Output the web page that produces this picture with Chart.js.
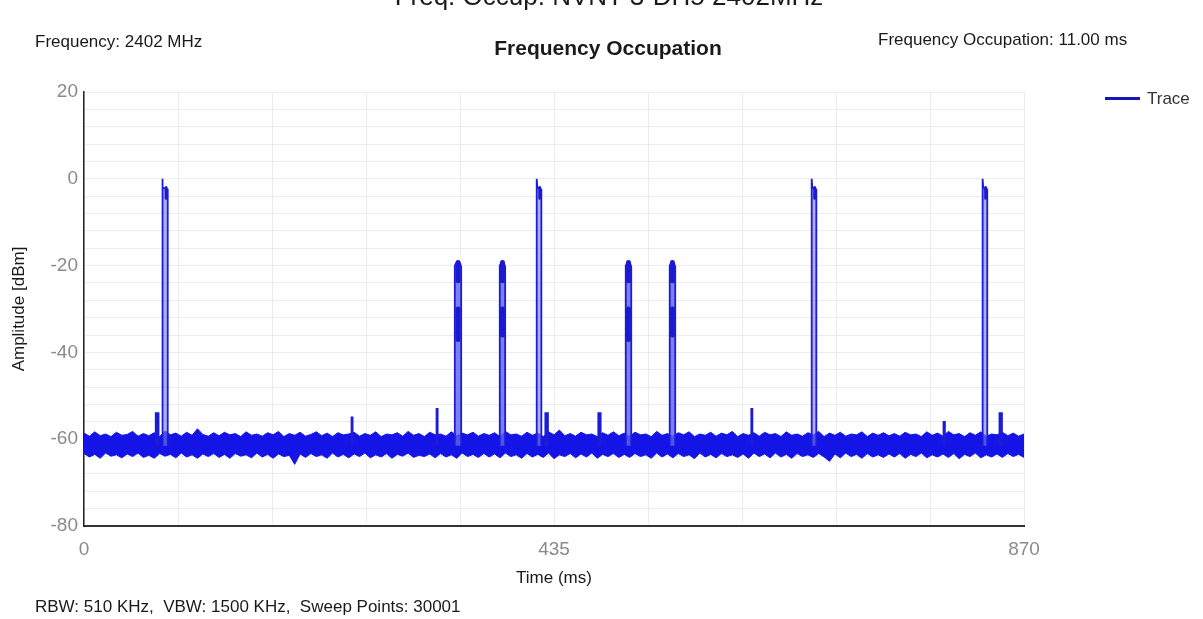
<!DOCTYPE html>
<html>
<head>
<meta charset="utf-8">
<script src="https://cdn.jsdelivr.net/npm/chart.js@4"></script>
<style>
  body { margin: 0; background: #fff; }
  #wrap { position: relative; width: 1203px; height: 619px; overflow: hidden; font-family: "Liberation Sans", Arial, sans-serif; }
  #wrap canvas { position: absolute; left: 0; top: 0; }
  .txt { position: absolute; white-space: nowrap; line-height: 1; color: #1a1a1a; }
  #legend-line { position: absolute; left: 1105px; top: 97px; width: 35px; height: 3px; background: #1717b4; }
</style>
</head>
<body>
<div id="wrap">
  <canvas id="chart" width="1203" height="619"></canvas>
  <div class="txt" style="left:0;width:1218px;text-align:center;top:-17px;font-size:26px;">Freq. Occup. NVNT 3-DH5 2402MHz</div>
  <div class="txt" style="left:35px;top:33px;font-size:17px;">Frequency: 2402 MHz</div>
  <div class="txt" style="left:0;width:1216px;text-align:center;top:37px;font-size:21px;font-weight:bold;">Frequency Occupation</div>
  <div class="txt" style="left:878px;top:31px;font-size:17px;">Frequency Occupation: 11.00 ms</div>
  <div id="legend-line"></div>
  <div class="txt" style="left:1147px;top:90px;font-size:17px;color:#333;">Trace</div>
  <div class="txt" style="left:35px;top:598px;font-size:17px;">RBW: 510 KHz,&nbsp; VBW: 1500 KHz,&nbsp; Sweep Points: 30001</div>
</div>
<script>
// Frequency occupation trace (Chart.js).

const X_MIN = 0, X_MAX = 870;
const Y_MIN = -80, Y_MAX = 20;
const X_LABELS = [0, 435, 870];
const Y_LABELS = [20, 0, -20, -40, -60, -80];

// noise floor envelope, one value every 5 ms (0 .. 870 ms)
const NOISE_STEP = 5;
const noiseHi = [
  -58.6,-59.3,-58.3,-59.2,-58.8,-59.4,-58.4,-59.1,-58.9,-58.2,-59.3,-58.7,-59.2,-58.5,-59.4,-58.1,-59.0,-58.6,-59.3,-58.4,-59.1,-57.6,-58.9,-59.3,-58.5,
  -59.2,-58.4,-59.0,-58.7,-59.4,-58.3,-59.1,-58.8,-59.3,-58.5,-59.0,-58.2,-59.4,-58.7,-59.1,-58.4,-59.3,-58.9,-58.3,-59.2,-58.6,-59.4,-58.5,-59.0,-58.8,
  -58.4,-59.3,-58.7,-59.1,-58.3,-59.4,-58.8,-59.0,-58.5,-59.3,-58.2,-59.1,-58.7,-59.4,-58.4,-59.0,-58.8,-59.3,-58.3,-59.2,-58.6,-59.0,-58.4,-59.3,-58.7,
  -59.1,-58.5,-59.4,-58.2,-59.0,-58.8,-59.3,-58.4,-59.1,-58.6,-59.4,-58.3,-59.0,-57.9,-59.2,-58.7,-59.3,-58.4,-59.0,-58.8,-59.4,-58.5,-59.1,-58.3,-59.2,
  -58.6,-59.3,-58.4,-59.0,-58.8,-59.4,-58.2,-59.1,-58.7,-59.3,-58.5,-59.0,-58.3,-59.4,-58.8,-59.1,-58.4,-59.3,-58.6,-59.0,-58.2,-59.4,-58.7,-59.1,-58.5,
  -59.3,-58.4,-59.0,-58.7,-59.4,-58.3,-59.1,-58.8,-59.3,-58.5,-59.0,-58.2,-59.4,-58.6,-59.1,-58.4,-59.3,-58.8,-59.0,-58.3,-59.4,-58.6,-59.1,-58.5,-59.2,
  -58.7,-59.3,-58.4,-59.0,-58.8,-59.4,-58.3,-59.1,-58.6,-59.3,-58.2,-59.0,-58.7,-59.4,-58.5,-59.1,-58.3,-59.3,-58.8,-59.0,-58.4,-59.2,-58.6,-59.3,-58.8
];
const noiseLo = [
  -63.3,-64.1,-63.5,-64.4,-63.2,-63.9,-63.6,-64.3,-63.4,-64.0,-63.2,-64.2,-63.7,-64.4,-63.3,-63.9,-63.5,-64.3,-63.2,-64.1,-63.6,-64.4,-63.4,-64.0,-63.3,
  -64.2,-63.5,-64.4,-63.3,-63.9,-63.6,-64.3,-63.2,-64.1,-63.5,-64.4,-63.4,-64.0,-63.7,-65.8,-63.4,-64.2,-63.3,-64.0,-63.6,-64.4,-63.2,-64.1,-63.5,-64.3,
  -63.4,-64.0,-63.2,-64.3,-63.6,-64.1,-63.3,-64.4,-63.5,-63.9,-63.2,-64.2,-63.7,-64.0,-63.4,-64.3,-63.3,-64.1,-63.6,-64.4,-63.2,-64.0,-63.5,-64.2,-63.3,
  -64.1,-63.4,-64.3,-63.2,-64.0,-63.6,-64.4,-63.3,-64.1,-63.5,-64.2,-63.2,-64.5,-63.6,-64.0,-63.3,-64.3,-63.4,-64.1,-63.2,-64.4,-63.5,-64.0,-63.3,-64.2,
  -63.5,-64.2,-63.3,-64.0,-63.6,-64.4,-63.2,-64.1,-63.4,-64.3,-63.3,-64.0,-63.6,-64.5,-63.2,-64.1,-63.5,-64.3,-63.3,-64.0,-63.6,-64.2,-63.4,-64.4,-63.2,
  -64.0,-63.4,-64.3,-63.2,-64.1,-63.5,-64.4,-63.3,-64.0,-63.6,-64.2,-63.3,-64.1,-65.1,-63.4,-64.3,-63.2,-64.0,-63.5,-64.4,-63.3,-64.1,-63.6,-64.2,-63.4,
  -64.1,-63.3,-64.4,-63.5,-64.0,-63.2,-64.3,-63.6,-64.1,-63.4,-64.2,-63.3,-64.5,-63.5,-64.0,-63.2,-64.3,-63.6,-64.1,-63.4,-64.2,-63.3,-64.0,-63.5,-64.2
];

// bursts: start / end time (ms) and top level (dBm)
const pulseStart = [66.4, 72.4, 247.6, 326.3, 343.2, 384.8, 419.0, 427.0, 476.0, 501.4, 542.1, 617.6, 673.5, 795.5, 831.7, 847.3];
const pulseEnd   = [69.0, 77.5, 248.6, 327.3, 349.1, 389.8, 423.3, 429.4, 478.2, 506.5, 547.2, 618.6, 677.8, 796.8, 836.0, 849.6];
const pulseTop   = [-54, 0, -55, -53, -19.5, -19.5, 0, -54, -54, -19.5, -19.5, -53, 0, -56, 0, -54];
const PULSE_BASE = -61.5;

// dense (dark) stretches inside the bursts
const blobT  = [76.0, 346.2, 346.2, 387.3, 387.3, 421.8, 503.9, 503.9, 544.6, 544.6, 676.3, 834.5];
const blobHi = [-2.0, -19.3, -30.0, -19.3, -30.0, -2.0, -19.3, -30.0, -19.3, -30.0, -2.0, -2.0];
const blobLo = [-4.5, -23.5, -37.0, -23.5, -36.0, -4.5, -23.5, -37.0, -23.5, -36.0, -4.5, -4.5];

const TRACE = '#1414e6';

function pulseShape(s, e, top) {
  if (top > -5) return [[s, PULSE_BASE], [s, top], [s + 0.6, top - 2], [e, top - 2.5], [e, PULSE_BASE]];
  if (top > -30) return [[s, PULSE_BASE], [s, top - 0.5], [s + 1, top], [e - 1, top], [e, top - 0.8], [e, PULSE_BASE]];
  return [[s, PULSE_BASE], [s, top], [e, top], [e, PULSE_BASE]];
}

const datasets = [
  {
    label: 'Trace',
    data: noiseHi.map((v, i) => ({x: i * NOISE_STEP, y: v})),
    borderColor: TRACE, borderWidth: 1, pointRadius: 0, fill: false, order: 5
  },
  {
    label: 'floor',
    data: noiseLo.map((v, i) => ({x: i * NOISE_STEP, y: v})),
    borderColor: TRACE, borderWidth: 1, pointRadius: 0,
    fill: '-1', backgroundColor: TRACE, order: 5
  }
];

pulseStart.forEach((s, i) => {
  const top = pulseTop[i];
  const small = top < -30;
  datasets.push({
    label: 'burst' + i,
    data: pulseShape(s, pulseEnd[i], top).map(p => ({x: p[0], y: p[1]})),
    borderColor: '#1c1cd6',
    borderWidth: 1.8,
    pointRadius: 0,
    fill: {value: PULSE_BASE},
    backgroundColor: small ? '#1c1cd6' : (top > -5 ? 'rgba(120,120,242,0.6)' : 'rgba(95,95,236,0.8)'),
    order: 2
  });
});

// two widths of dense stretch: the -20 dBm bursts are wider than the 0 dBm ones
[[v => v < -10, 5], [v => v >= -10, 3]].forEach(([pick, width]) => {
  const pts = [];
  blobT.forEach((t, i) => {
    if (!pick(blobHi[i])) return;
    pts.push({x: t, y: blobHi[i]}, {x: t, y: blobLo[i]}, {x: t, y: null});
  });
  datasets.push({
    label: 'dense',
    data: pts,
    borderColor: '#1a1ad2',
    borderWidth: width,
    borderCapStyle: 'round',
    pointRadius: 0,
    spanGaps: false,
    fill: false,
    order: 1
  });
});

new Chart(document.getElementById('chart'), {
  type: 'line',
  data: { datasets },
  options: {
    responsive: false,
    animation: false,
    layout: { padding: { left: 0, right: 179, top: 92, bottom: 0 } },
    plugins: { legend: { display: false }, tooltip: { enabled: false } },
    elements: { line: { tension: 0 } },
    scales: {
      x: {
        type: 'linear',
        min: X_MIN, max: X_MAX,
        afterFit: (scale) => { scale.height = 93; },
        grid: { color: '#ececec', lineWidth: 1, drawTicks: false },
        border: { color: '#333', width: 2 },
        ticks: {
          stepSize: 87,
          autoSkip: false,
          maxRotation: 0,
          padding: 12,
          color: '#8a8a8a',
          font: { family: '"Liberation Sans", Arial, sans-serif', size: 19 },
          callback: (v) => X_LABELS.includes(v) ? String(v) : ''
        },
        title: {
          display: true, text: 'Time (ms)', color: '#1a1a1a',
          font: { family: '"Liberation Sans", Arial, sans-serif', size: 17 },
          padding: { top: 0, bottom: 30 }
        }
      },
      y: {
        type: 'linear',
        min: Y_MIN, max: Y_MAX,
        afterFit: (scale) => { scale.width = 84; },
        grid: { color: '#ececec', lineWidth: 1, drawTicks: false },
        border: { color: '#222', width: 1.5 },
        ticks: {
          stepSize: 4,
          autoSkip: false,
          padding: 6,
          color: '#8a8a8a',
          font: { family: '"Liberation Sans", Arial, sans-serif', size: 19 },
          callback: (v) => Y_LABELS.includes(v) ? String(v) : ''
        },
        title: {
          display: true, text: 'Amplitude [dBm]', color: '#1a1a1a',
          font: { family: '"Liberation Sans", Arial, sans-serif', size: 17 },
          padding: { top: 9, bottom: 0 }
        }
      }
    }
  }
});
</script>
</body>
</html>
